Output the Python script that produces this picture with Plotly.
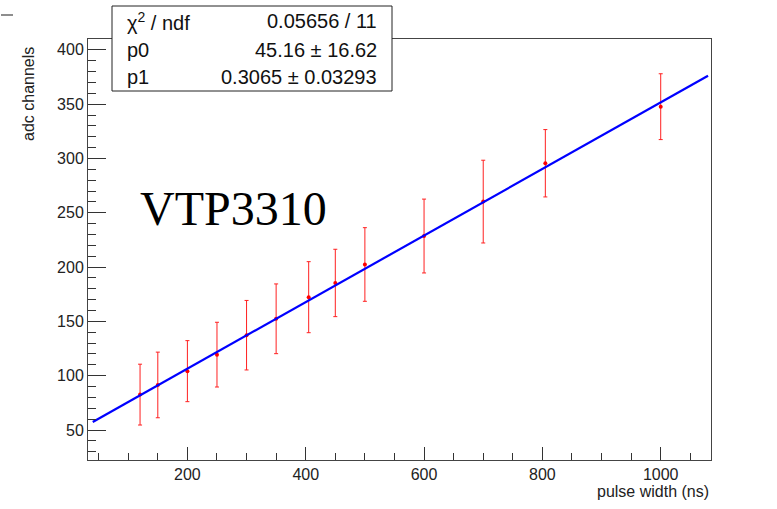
import plotly.graph_objects as go

# ---- data ----
pulse_width = [120, 150, 200, 250, 300, 350, 405, 450, 500, 600, 700, 805, 1000]
adc = [82.6, 91.5, 104.2, 119.4, 137.3, 152.4, 172.3, 185.4, 202.4, 228.6, 260.3, 295.6, 347.7]
adc_err = [28.0, 30.2, 28.1, 29.8, 32.0, 32.1, 32.7, 31.0, 33.9, 34.0, 38.1, 31.0, 30.3]

fit_p0 = 45.16
fit_p1 = 0.3065
fit_range = [40, 1080]

stat_names = ["χ<sup>2</sup> / ndf", "p0", "p1"]
stat_values = ["0.05656 / 11", "45.16 ± 16.62", "0.3065 ± 0.03293"]

x_ticks = [200, 400, 600, 800, 1000]
y_ticks = [50, 100, 150, 200, 250, 300, 350, 400]

# ---- geometry (pixels) ----
W, H = 777, 509
L, R, T, B = 88, 711, 39, 460
pw, ph = R - L, B - T

def px(xp):
    return (xp - L) / pw

def py(yp):
    return (B - yp) / ph

FONT = "Liberation Sans, Arial, Helvetica, sans-serif"

fig = go.Figure()

fig.add_trace(go.Scatter(
    x=pulse_width, y=adc,
    mode="markers",
    marker=dict(color="#ff0000", size=4),
    error_y=dict(type="data", array=adc_err, color="#ff2020", thickness=1, width=2),
    showlegend=False,
))

fit_y = [fit_p0 + fit_p1 * v for v in fit_range]
fig.add_trace(go.Scatter(
    x=fit_range, y=fit_y, mode="lines",
    line=dict(color="#0000ff", width=2.2),
    showlegend=False,
))

axis_common = dict(
    showgrid=False, zeroline=False, showline=True, mirror=True,
    linecolor="#444444", linewidth=1, ticks="inside", tickcolor="#333333",
    tickfont=dict(family=FONT, size=16, color="#222222"),
)

fig.update_xaxes(
    range=[32, 1085], tickvals=x_ticks, ticklen=13, tickwidth=1,
    minor=dict(dtick=50, tick0=0, ticklen=7, ticks="inside", tickcolor="#333333"),
    **axis_common,
)
fig.update_yaxes(
    range=[22.4, 410], tickvals=y_ticks, ticklen=18, tickwidth=1,
    minor=dict(dtick=10, tick0=0, ticklen=8, ticks="inside", tickcolor="#333333"),
    **axis_common,
)

shapes = [
    dict(type="rect", xref="paper", yref="paper",
         x0=px(112), x1=px(392), y0=py(91), y1=py(6),
         line=dict(color="#222222", width=1), fillcolor="white", layer="above"),
    dict(type="line", xref="paper", yref="paper",
         x0=px(1), x1=px(13), y0=py(15), y1=py(15),
         line=dict(color="#444444", width=1.2)),
]

annotations = []
row_y = [21, 50, 77]
for name, val, yy in zip(stat_names, stat_values, row_y):
    annotations.append(dict(xref="paper", yref="paper", x=px(125), y=py(yy),
                            xanchor="left", yanchor="middle", text=name, showarrow=False,
                            font=dict(family=FONT, size=20, color="#111111")))
    annotations.append(dict(xref="paper", yref="paper", x=px(379), y=py(yy),
                            xanchor="right", yanchor="middle", text=val, showarrow=False,
                            font=dict(family=FONT, size=20, color="#111111")))

annotations.append(dict(xref="paper", yref="paper", x=px(138), y=py(208),
                        xanchor="left", yanchor="middle", text="VTP3310", showarrow=False,
                        font=dict(family="Liberation Serif, Times New Roman, serif", size=48, color="black")))
annotations.append(dict(xref="paper", yref="paper", x=px(28), y=py(45),
                        xanchor="center", yanchor="top", text="adc channels", textangle=-90,
                        showarrow=False, font=dict(family=FONT, size=16, color="#222222")))
annotations.append(dict(xref="paper", yref="paper", x=px(711), y=py(491),
                        xanchor="right", yanchor="middle", text="pulse width (ns)",
                        showarrow=False, font=dict(family=FONT, size=16, color="#222222")))

fig.update_layout(
    width=W, height=H,
    margin=dict(l=L, r=W - R, t=T, b=H - B, pad=0),
    paper_bgcolor="white", plot_bgcolor="white",
    shapes=shapes, annotations=annotations,
    font=dict(family=FONT),
)

fig.write_html("out.html", config={"displayModeBar": False},
               post_script="document.body.style.margin='0';")
